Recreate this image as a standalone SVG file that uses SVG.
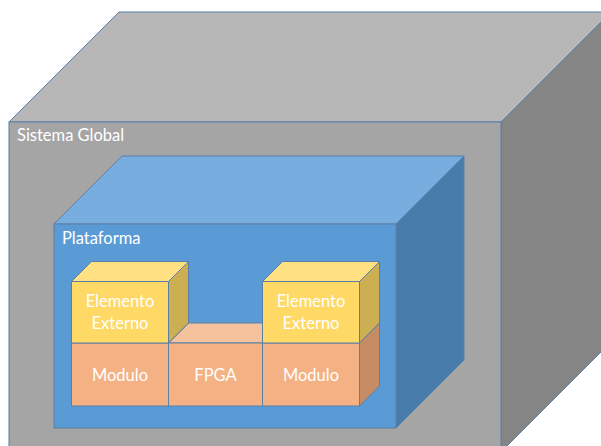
<svg xmlns="http://www.w3.org/2000/svg" width="601" height="446" viewBox="0 0 601 446">
<style>
.e{stroke:#5a7fa6;stroke-width:1;stroke-linejoin:miter}
.t{font-family:Lato,"Open Sans","Liberation Sans",sans-serif;fill:#ffffff;font-size:16.5px}
.c{text-anchor:middle}
</style>
<rect width="601" height="446" fill="#ffffff"/>
<g id="sistema-global">
<polygon class="e" points="9,122 119,12 611,12 501,122" fill="#b7b7b7"/>
<polygon class="e" points="501,122 611,12 611,342 501,452" fill="#858585"/>
<rect class="e" x="9" y="122" width="492" height="330" fill="#a5a5a5"/>
<text class="t" x="17" y="141">Sistema Global</text>
</g>
<g id="plataforma">
<polygon class="e" points="54,224 122,156 464,156 396,224" fill="#78addf"/>
<polygon class="e" points="396,224 464,156 464,360 396,428" fill="#477cab"/>
<rect class="e" x="54" y="224" width="342" height="204" fill="#5b9bd5"/>
<text class="t" x="62" y="244">Plataforma</text>
</g>
<g id="modulo-1">
<rect class="e" x="71.5" y="343" width="97" height="63" fill="#f4b183"/>
<text class="t c" x="120" y="381">Modulo</text>
</g>
<g id="fpga">
<polygon class="e" points="168.5,343 188.5,323 282.5,323 262.5,343" fill="#f6c29e"/>
<rect class="e" x="168.5" y="343" width="94" height="63" fill="#f4b183"/>
<text class="t c" x="215.5" y="381">FPGA</text>
</g>
<g id="modulo-2">
<polygon class="e" points="359.5,343 379.5,323 379.5,386 359.5,406" fill="#c58c66"/>
<rect class="e" x="262.5" y="343" width="97" height="63" fill="#f4b183"/>
<text class="t c" x="311" y="381">Modulo</text>
</g>
<g id="elemento-externo-1">
<polygon class="e" points="71.5,281.5 91.5,261.5 188.5,261.5 168.5,281.5" fill="#ffe082"/>
<polygon class="e" points="168.5,281.5 188.5,261.5 188.5,323 168.5,343" fill="#ccaf52"/>
<rect class="e" x="71.5" y="281.5" width="97" height="61.5" fill="#ffd966"/>
<text class="t c" x="120" y="307">Elemento</text>
<text class="t c" x="120" y="329">Externo</text>
</g>
<g id="elemento-externo-2">
<polygon class="e" points="262.5,281.5 282.5,261.5 379.5,261.5 359.5,281.5" fill="#ffe082"/>
<polygon class="e" points="359.5,281.5 379.5,261.5 379.5,323 359.5,343" fill="#ccaf52"/>
<rect class="e" x="262.5" y="281.5" width="97" height="61.5" fill="#ffd966"/>
<text class="t c" x="311" y="307">Elemento</text>
<text class="t c" x="311" y="329">Externo</text>
</g>
</svg>
